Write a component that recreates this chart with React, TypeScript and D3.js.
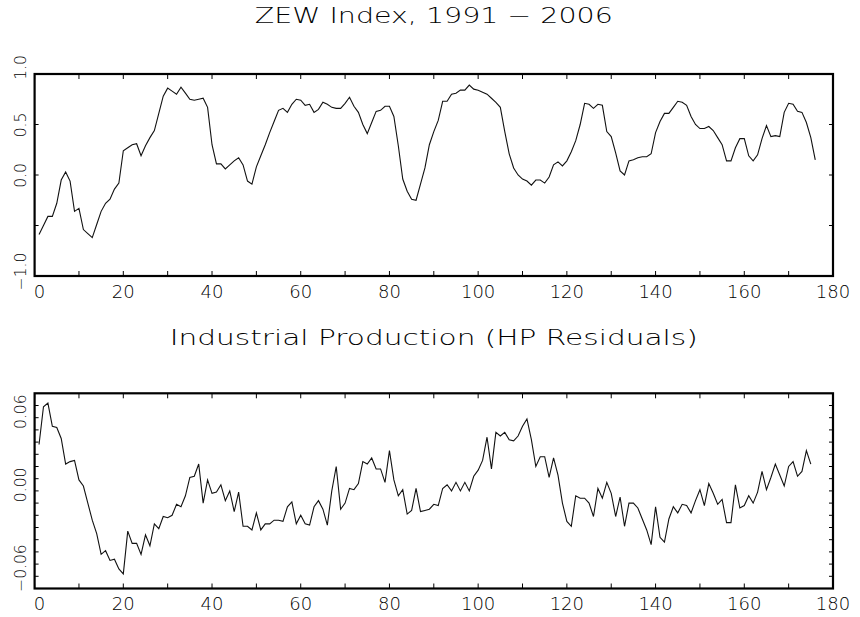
import * as d3 from "d3";

// ZEW index, monthly observations 1..176
const ZEW_INDEX = [
  -0.59, -0.5, -0.41, -0.41, -0.28, -0.05, 0.03, -0.06, -0.36, -0.33,
  -0.54, -0.58, -0.62, -0.49, -0.36, -0.28, -0.24, -0.14, -0.08, 0.24,
  0.27, 0.3, 0.31, 0.19, 0.29, 0.37, 0.44, 0.61, 0.78, 0.86,
  0.83, 0.8, 0.87, 0.81, 0.75, 0.74, 0.75, 0.76, 0.67, 0.3,
  0.11, 0.11, 0.06, 0.1, 0.14, 0.17, 0.1, -0.06, -0.09, 0.08,
  0.19, 0.3, 0.42, 0.53, 0.64, 0.66, 0.62, 0.7, 0.75, 0.74,
  0.69, 0.7, 0.62, 0.65, 0.72, 0.7, 0.67, 0.66, 0.66, 0.71,
  0.77, 0.68, 0.62, 0.5, 0.41, 0.52, 0.63, 0.64, 0.68, 0.68,
  0.58, 0.29, -0.04, -0.16, -0.24, -0.25, -0.09, 0.07, 0.3, 0.43,
  0.54, 0.73, 0.73, 0.8, 0.81, 0.84, 0.84, 0.89, 0.85, 0.84,
  0.82, 0.8, 0.76, 0.72, 0.67, 0.43, 0.21, 0.07, 0.0, -0.04,
  -0.06, -0.1, -0.05, -0.05, -0.08, -0.02, 0.1, 0.13, 0.09, 0.14,
  0.23, 0.34, 0.5, 0.71, 0.7, 0.66, 0.7, 0.69, 0.43, 0.38,
  0.22, 0.04, 0.0, 0.14, 0.15, 0.17, 0.18, 0.18, 0.21, 0.42,
  0.53, 0.61, 0.61, 0.67, 0.73, 0.72, 0.69, 0.58, 0.5, 0.46,
  0.46, 0.48, 0.44, 0.37, 0.3, 0.14, 0.14, 0.27, 0.36, 0.36,
  0.19, 0.14, 0.2, 0.36, 0.49, 0.38, 0.39, 0.38, 0.62, 0.71,
  0.7, 0.63, 0.62, 0.52, 0.37, 0.15,
];

// industrial production, HP filter residuals 1..175
const IP_RESID = [
  0.038, 0.069, 0.072, 0.053, 0.052, 0.043, 0.022, 0.024, 0.025, 0.009,
  0.004, -0.01, -0.024, -0.035, -0.052, -0.049, -0.057, -0.056, -0.064, -0.068,
  -0.033, -0.043, -0.043, -0.052, -0.036, -0.045, -0.027, -0.031, -0.021, -0.022,
  -0.02, -0.011, -0.013, -0.004, 0.011, 0.012, 0.022, -0.01, 0.009, -0.002,
  -0.001, 0.005, -0.008, 0.0, -0.017, -0.001, -0.029, -0.029, -0.032, -0.018,
  -0.032, -0.027, -0.027, -0.024, -0.024, -0.025, -0.013, -0.009, -0.027, -0.02,
  -0.027, -0.028, -0.013, -0.008, -0.015, -0.028, 0.0, 0.02, -0.015, -0.01,
  0.002, 0.001, 0.006, 0.024, 0.022, 0.027, 0.018, 0.018, 0.007, 0.033,
  0.009, -0.004, 0.001, -0.019, -0.016, 0.002, -0.017, -0.016, -0.015, -0.011,
  -0.012, 0.002, 0.005, 0.0, 0.007, 0.0, 0.007, 0.0, 0.012, 0.017,
  0.025, 0.044, 0.018, 0.048, 0.045, 0.048, 0.042, 0.041, 0.045, 0.053,
  0.059, 0.042, 0.02, 0.028, 0.028, 0.011, 0.027, 0.013, -0.01, -0.025,
  -0.029, -0.004, -0.006, -0.006, -0.01, -0.021, 0.002, -0.006, 0.007, -0.002,
  -0.021, -0.005, -0.029, -0.01, -0.01, -0.014, -0.023, -0.032, -0.044, -0.013,
  -0.038, -0.042, -0.023, -0.013, -0.018, -0.011, -0.012, -0.018, -0.008, 0.001,
  -0.012, 0.006, -0.002, -0.011, -0.007, -0.026, -0.026, 0.005, -0.014, -0.012,
  -0.004, -0.01, -0.001, 0.016, 0.001, 0.011, 0.022, 0.013, 0.004, 0.02,
  0.024, 0.012, 0.016, 0.033, 0.022,
];

const X_DOMAIN: [number, number] = [0, 180];
const X_TICKS = d3.range(0, 181, 10);
const X_LABELS = [0, 20, 40, 60, 80, 100, 120, 140, 160, 180];

const ZEW_DOMAIN: [number, number] = [-1, 1];
const ZEW_TICKS = [-0.5, 0, 0.5];
const ZEW_LABELS = [1, 0.5, 0, -1];

const IP_DOMAIN: [number, number] = [-0.08, 0.08];
const IP_TICKS = d3.range(-7, 8).map((d) => d / 100);
const IP_LABELS = [0.06, 0, -0.06];

const FONT = "'DejaVu Sans', sans-serif";
const LEFT = 34.6;
const RIGHT = 833;
const CENTER = (LEFT + RIGHT) / 2;

interface PanelProps {
  values: number[];
  domain: [number, number];
  top: number;
  bottom: number;
  yTicks: number[];
  yLabels: number[];
  fmt: (v: number) => string;
  labelShift: (v: number) => number;
}

const minusFmt = (f: (v: number) => string) => (v: number) => f(v).replace("-", "\u2212");

function Panel({ values, domain, top, bottom, yTicks, yLabels, fmt, labelShift }: PanelProps) {
  const x = d3.scaleLinear().domain(X_DOMAIN).range([LEFT, RIGHT]);
  const y = d3.scaleLinear().domain(domain).range([bottom, top]);
  const line = d3
    .line<number>()
    .x((_, i) => x(i + 1))
    .y((d) => y(d));

  return (
    <g>
      <path d={line(values) ?? ""} fill="none" stroke="#111" strokeWidth={1.1} />

      {/* x ticks on both horizontal edges */}
      {X_TICKS.map((t) => (
        <g key={`xt${t}`} stroke="#000" strokeWidth={1}>
          <line x1={x(t)} x2={x(t)} y1={bottom} y2={bottom - 5} />
          <line x1={x(t)} x2={x(t)} y1={top} y2={top + 5} />
        </g>
      ))}
      {/* y ticks on both vertical edges */}
      {yTicks.map((t) => (
        <g key={`yt${t}`} stroke="#000" strokeWidth={1}>
          <line x1={LEFT} x2={LEFT + 4} y1={y(t)} y2={y(t)} />
          <line x1={RIGHT} x2={RIGHT - 4} y1={y(t)} y2={y(t)} />
        </g>
      ))}

      <rect
        x={LEFT}
        y={top}
        width={RIGHT - LEFT}
        height={bottom - top}
        fill="none"
        stroke="#000"
        strokeWidth={2.2}
      />

      {X_LABELS.map((t) => (
        <text
          key={`xl${t}`}
          x={x(t) + (t === 0 ? 5 : 0)}
          y={bottom + 21.5}
          textAnchor="middle"
          fontSize={18}
          fontFamily={FONT}
          fontWeight={200}
          fill="#000"
        >
          {t}
        </text>
      ))}

      {yLabels.map((t) => (
        <text
          key={`yl${t}`}
          transform={`translate(26,${y(t) + labelShift(t)}) rotate(-90)`}
          textAnchor="middle"
          fontSize={15.5}
          fontFamily={FONT}
          fontWeight={200}
          fill="#000"
        >
          {fmt(t)}
        </text>
      ))}
    </g>
  );
}

export default function App() {
  return (
    <svg
      width={860}
      height={617}
      style={{ position: "absolute", left: 0, top: 0, background: "#fff" }}
    >
      <text
        x={CENTER}
        y={22.7}
        textAnchor="middle"
        fontSize={21}
        fontFamily={FONT}
        fontWeight={200}
        fill="#000"
        textLength={358}
        lengthAdjust="spacingAndGlyphs"
      >
        ZEW Index, 1991 {"\u2212"} 2006
      </text>
      <Panel
        values={ZEW_INDEX}
        domain={ZEW_DOMAIN}
        top={74}
        bottom={276}
        yTicks={ZEW_TICKS}
        yLabels={ZEW_LABELS}
        fmt={minusFmt(d3.format(".1f"))}
        labelShift={(v) => (v === 1 ? -6.5 : v === -1 ? -4.5 : 0.5)}
      />

      <text
        x={CENTER}
        y={345}
        textAnchor="middle"
        fontSize={21}
        fontFamily={FONT}
        fontWeight={200}
        fill="#000"
        textLength={528}
        lengthAdjust="spacingAndGlyphs"
      >
        Industrial Production (HP Residuals)
      </text>
      <Panel
        values={IP_RESID}
        domain={IP_DOMAIN}
        top={393.3}
        bottom={588.5}
        yTicks={IP_TICKS}
        yLabels={IP_LABELS}
        fmt={minusFmt(d3.format(".2f"))}
        labelShift={(v) => (v < 0 ? 4 : -6)}
      />
    </svg>
  );
}
